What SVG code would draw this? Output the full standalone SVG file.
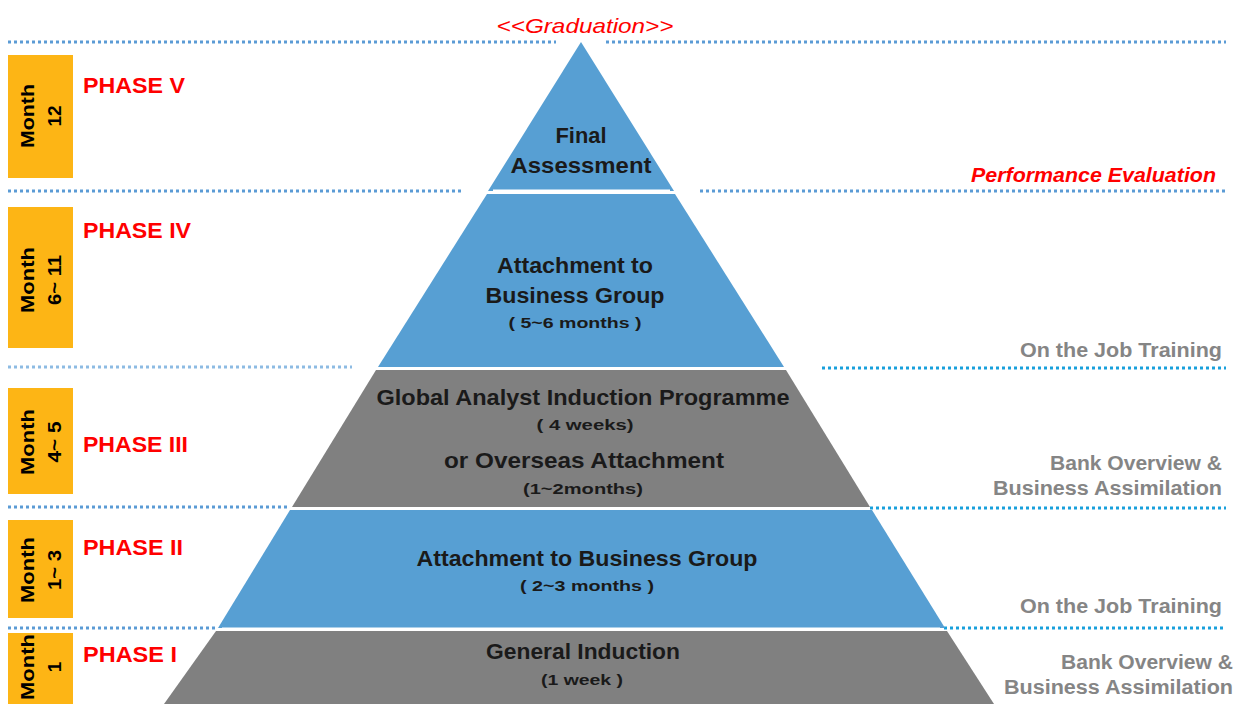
<svg xmlns="http://www.w3.org/2000/svg" width="1236" height="704" viewBox="0 0 1236 704">
<style>
.dl{stroke:#5B9BD5;stroke-width:3;stroke-dasharray:3 3;fill:none}
.dc{stroke:#18A0DC;stroke-width:3;stroke-dasharray:3 3;fill:none}
.blue{fill:#579FD3}
.gray{fill:#808080}
.mbox{fill:#FDB515}
.mt{font-family:"Liberation Sans",Arial,sans-serif;font-weight:bold;font-size:19px;fill:#000;text-anchor:middle}
.ph{font-family:"Liberation Sans",Arial,sans-serif;font-weight:bold;font-size:22px;fill:#FF0000}
.pt{font-family:"Liberation Sans",Arial,sans-serif;font-weight:bold;font-size:22px;fill:#1a1a1a;text-anchor:middle}
.ps{font-family:"Liberation Sans",Arial,sans-serif;font-size:15px;font-weight:bold;fill:#1a1a1a;text-anchor:middle}
.rt{font-family:"Liberation Sans",Arial,sans-serif;font-size:20px;font-weight:bold;fill:#858585;text-anchor:end}
.red{font-family:"Liberation Sans",Arial,sans-serif;font-style:italic;font-size:21px;fill:#FF0000}
</style>
<rect width="1236" height="704" fill="#fff"/>
<g id="connectors">
<line class="dl" x1="8" y1="42" x2="556" y2="42"/>
<line class="dl" x1="606" y1="42" x2="1226" y2="42"/>
<line class="dl" x1="8" y1="191" x2="462" y2="191"/>
<line class="dl" x1="700" y1="191" x2="1226" y2="191"/>
<line class="dl" x1="8" y1="367" x2="352" y2="367" style="stroke:#8DBBE3"/>
<line class="dc" x1="822" y1="368" x2="1226" y2="368"/>
<line class="dl" x1="8" y1="507" x2="290" y2="507"/>
<line class="dc" x1="870" y1="508" x2="1226" y2="508"/>
<line class="dl" x1="8" y1="628" x2="218" y2="628"/>
<line class="dc" x1="944" y1="628" x2="1226" y2="628"/>
</g>
<g id="phase5">
<rect class="mbox" x="8" y="55" width="65" height="123"/>
<text class="mt" transform="translate(34,116) rotate(-90)" textLength="64" lengthAdjust="spacingAndGlyphs">Month</text>
<text class="mt" transform="translate(61,116) rotate(-90)">12</text>
<text class="ph" x="83" y="93" textLength="102" lengthAdjust="spacingAndGlyphs">PHASE V</text>
<polygon class="blue" points="581,42 488,191 674,191"/>
<line x1="493" y1="191" x2="670" y2="191" stroke="#fff" stroke-width="3"/>
<text class="pt" x="581" y="143" textLength="51" lengthAdjust="spacingAndGlyphs">Final</text>
<text class="pt" x="581" y="173" textLength="141" lengthAdjust="spacingAndGlyphs">Assessment</text>
</g>
<g id="phase4">
<rect class="mbox" x="8" y="207" width="65" height="141"/>
<text class="mt" transform="translate(34,280) rotate(-90)" textLength="66" lengthAdjust="spacingAndGlyphs">Month</text>
<text class="mt" transform="translate(61,280) rotate(-90)" textLength="50" lengthAdjust="spacingAndGlyphs">6~ 11</text>
<text class="ph" x="83" y="238" textLength="108" lengthAdjust="spacingAndGlyphs">PHASE IV</text>
<polygon class="blue" points="487,194 675,194 784,367 378,367"/>
<text class="pt" x="575" y="273" textLength="156" lengthAdjust="spacingAndGlyphs">Attachment to</text>
<text class="pt" x="575" y="303" textLength="179" lengthAdjust="spacingAndGlyphs">Business Group</text>
<text class="ps" x="575" y="328" textLength="133" lengthAdjust="spacingAndGlyphs">( 5~6 months )</text>
</g>
<g id="phase3">
<rect class="mbox" x="8" y="388" width="65" height="106"/>
<text class="mt" transform="translate(34,442) rotate(-90)" textLength="66" lengthAdjust="spacingAndGlyphs">Month</text>
<text class="mt" transform="translate(61,442) rotate(-90)" textLength="41" lengthAdjust="spacingAndGlyphs">4~ 5</text>
<text class="ph" x="83" y="452" textLength="105" lengthAdjust="spacingAndGlyphs">PHASE III</text>
<polygon class="gray" points="376,370 786,370 870,507 292,507"/>
<text class="pt" x="583" y="405" textLength="413" lengthAdjust="spacingAndGlyphs">Global Analyst Induction  Programme</text>
<text class="ps" x="585" y="430" textLength="97" lengthAdjust="spacingAndGlyphs">( 4 weeks)</text>
<text class="pt" x="584" y="468" textLength="280" lengthAdjust="spacingAndGlyphs">or  Overseas Attachment</text>
<text class="ps" x="583" y="494" textLength="120" lengthAdjust="spacingAndGlyphs">(1~2months)</text>
</g>
<g id="phase2">
<rect class="mbox" x="8" y="520" width="65" height="98"/>
<text class="mt" transform="translate(34,570) rotate(-90)" textLength="66" lengthAdjust="spacingAndGlyphs">Month</text>
<text class="mt" transform="translate(61,570) rotate(-90)" textLength="40" lengthAdjust="spacingAndGlyphs">1~ 3</text>
<text class="ph" x="83" y="555" textLength="100" lengthAdjust="spacingAndGlyphs">PHASE II</text>
<polygon class="blue" points="290,510 872,510 945,628 218,628"/>
<line x1="222" y1="629" x2="940" y2="629" stroke="#fff" stroke-width="3"/>
<text class="pt" x="587" y="566" textLength="341" lengthAdjust="spacingAndGlyphs">Attachment to Business Group</text>
<text class="ps" x="587" y="591" textLength="134" lengthAdjust="spacingAndGlyphs">( 2~3 months )</text>
</g>
<g id="phase1">
<rect class="mbox" x="8" y="633" width="65" height="71"/>
<text class="mt" transform="translate(34,667) rotate(-90)" textLength="66" lengthAdjust="spacingAndGlyphs">Month</text>
<text class="mt" transform="translate(61,667) rotate(-90)">1</text>
<text class="ph" x="83" y="662" textLength="94" lengthAdjust="spacingAndGlyphs">PHASE I</text>
<polygon class="gray" points="216,631 947,631 994,704 164,704"/>
<text class="pt" x="583" y="659" textLength="194" lengthAdjust="spacingAndGlyphs">General Induction</text>
<text class="ps" x="582" y="685" textLength="82" lengthAdjust="spacingAndGlyphs">(1 week )</text>
</g>
<g id="labels">
<text class="red" x="585" y="33" text-anchor="middle" textLength="177" lengthAdjust="spacingAndGlyphs">&lt;&lt;Graduation&gt;&gt;</text>
<text class="red" x="1216" y="182" text-anchor="end" font-weight="bold" font-size="20" textLength="245" lengthAdjust="spacingAndGlyphs">Performance Evaluation</text>
<text class="rt" x="1222" y="357" textLength="202" lengthAdjust="spacingAndGlyphs">On the Job Training</text>
<text class="rt" x="1222" y="470" textLength="172" lengthAdjust="spacingAndGlyphs">Bank Overview &amp;</text>
<text class="rt" x="1222" y="495" textLength="229" lengthAdjust="spacingAndGlyphs">Business Assimilation</text>
<text class="rt" x="1222" y="613" textLength="202" lengthAdjust="spacingAndGlyphs">On the Job Training</text>
<text class="rt" x="1233" y="669" textLength="172" lengthAdjust="spacingAndGlyphs">Bank Overview &amp;</text>
<text class="rt" x="1233" y="694" textLength="229" lengthAdjust="spacingAndGlyphs">Business Assimilation</text>
</g>
</svg>
